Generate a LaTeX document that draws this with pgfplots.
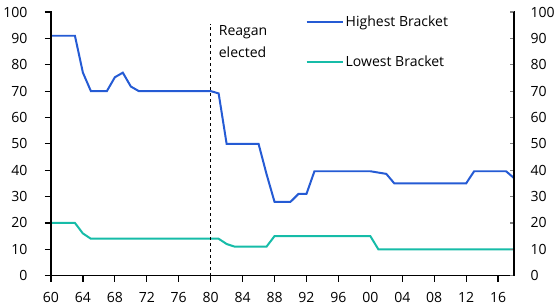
\documentclass[border=0pt]{standalone}
\usepackage{pgfplots}
\pgfplotsset{compat=1.18}
\usepackage{fontspec}
\setmainfont{Open Sans}
\definecolor{hiblue}{RGB}{37,91,212}
\definecolor{loteal}{RGB}{22,188,168}
\begin{document}
\begin{tikzpicture}
\begin{axis}[
  scale only axis, width=462bp, height=263bp,
  xmin=1960, xmax=2018, ymin=0, ymax=100,
  ytick={0,10,...,100},
  axis x line*=bottom, axis y line*=left,
  axis line style={line width=1.6pt},
  major tick style={line width=1.2pt},
  /pgf/number format/assume math mode=true,
  tick label style={font=\fontsize{14bp}{16bp}\selectfont},
  yticklabel style={xshift=-14bp},
  xticklabel style={yshift=-7bp},
  xtick={1960,1964,...,2016},
  xticklabels={60,64,68,72,76,80,84,88,92,96,00,04,08,12,16},
  tick align=outside, major tick length=6bp,
  clip=false,
  legend style={draw=none, fill=none, at={(rel axis cs:0.543,1.0)}, anchor=north west,
    font=\fontsize{14bp}{16bp}\selectfont, row sep=23bp, cells={anchor=west}},
  legend cell align=left,
  legend image code/.code={\draw[#1, line width=2pt] (0bp,0bp) -- (36bp,0bp);},
]
\addplot[hiblue, line width=2pt] coordinates {
(1960,91)(1961,91)(1962,91)(1963,91)(1964,77)(1965,70)(1966,70)(1967,70)
(1968,75.25)(1969,77)(1970,71.75)(1971,70)(1972,70)(1973,70)(1974,70)(1975,70)
(1976,70)(1977,70)(1978,70)(1979,70)(1980,70)(1981,69.13)(1982,50)(1983,50)
(1984,50)(1985,50)(1986,50)(1987,38.5)(1988,28)(1989,28)(1990,28)(1991,31)
(1992,31)(1993,39.6)(1994,39.6)(1995,39.6)(1996,39.6)(1997,39.6)(1998,39.6)
(1999,39.6)(2000,39.6)(2001,39.1)(2002,38.6)(2003,35)(2004,35)(2005,35)(2006,35)
(2007,35)(2008,35)(2009,35)(2010,35)(2011,35)(2012,35)(2013,39.6)(2014,39.6)
(2015,39.6)(2016,39.6)(2017,39.6)(2018,37)};
\addlegendentry{Highest Bracket}
\addplot[loteal, line width=2pt] coordinates {
(1960,20)(1961,20)(1962,20)(1963,20)(1964,16)(1965,14)(1966,14)(1967,14)
(1968,14)(1969,14)(1970,14)(1971,14)(1972,14)(1973,14)(1974,14)(1975,14)
(1976,14)(1977,14)(1978,14)(1979,14)(1980,14)(1981,14)(1982,12)(1983,11)
(1984,11)(1985,11)(1986,11)(1987,11)(1988,15)(1989,15)(1990,15)(1991,15)
(1992,15)(1993,15)(1994,15)(1995,15)(1996,15)(1997,15)(1998,15)(1999,15)
(2000,15)(2001,10)(2002,10)(2003,10)(2004,10)(2005,10)(2006,10)(2007,10)
(2008,10)(2009,10)(2010,10)(2011,10)(2012,10)(2013,10)(2014,10)(2015,10)
(2016,10)(2017,10)(2018,10)};
\addlegendentry{Lowest Bracket}
\addplot[black, dashed, line width=1pt, forget plot] coordinates {(1980,0)(1980,95.6)};
% axis frame (left, bottom, right) drawn as plots
\addplot[black, line width=1.6pt, forget plot, line cap=rect] coordinates {(1960,100)(1960,0)(2018,0)(2018,100)};
\pgfplotsinvokeforeach{0,10,20,30,40,50,60,70,80,90,100}{
  \addplot[black, line width=1.2pt, forget plot] coordinates {(1959.25,#1)(1960,#1)};
  \addplot[black, line width=1.2pt, forget plot] coordinates {(2017.5,#1)(2018,#1)};
}
\pgfplotsinvokeforeach{1960,1964,1968,1972,1976,1980,1984,1988,1992,1996,2000,2004,2008,2012,2016}{
  \addplot[black, line width=1.2pt, forget plot] coordinates {(#1,-2.28)(#1,0)};
}
\node[anchor=north west, align=left, font=\fontsize{14bp}{22bp}\selectfont, inner sep=0pt]
  at (axis cs:1981.0,95) {Reagan\\elected};
\path (rel axis cs:0.5,1) ++(0pt,12bp);
\end{axis}
\begin{axis}[
  scale only axis, width=462bp, height=263bp,
  xmin=1960, xmax=2018, ymin=0, ymax=100,
  ytick={0,10,...,100},
  axis x line=none, axis y line*=right,
  axis line style={line width=1.6pt},
  major tick style={line width=1.2pt},
  /pgf/number format/assume math mode=true,
  tick label style={font=\fontsize{14bp}{16bp}\selectfont},
  yticklabel style={xshift=13bp},
  tick align=inside, major tick length=4bp,
]
\addplot[draw=none] coordinates {(1960,0)};
\end{axis}
\end{tikzpicture}
\end{document}
